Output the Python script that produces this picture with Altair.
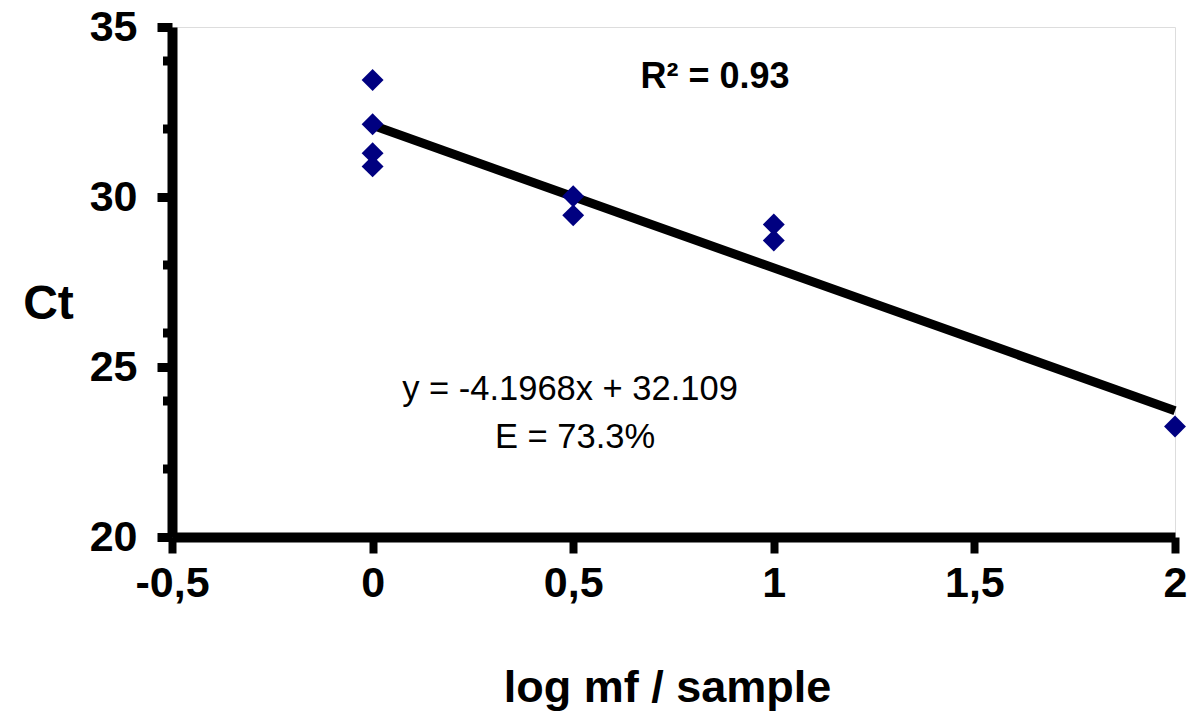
import altair as alt
import pandas as pd

# data
log_mf = [0, 0, 0, 0, 0.5, 0.5, 1, 1, 2]
ct = [33.44, 32.14, 31.29, 30.90, 30.02, 29.46, 29.19, 28.72, 23.25]

# regression line (from the printed equation y = -4.1968x + 32.109)
trend_x = [0, 2]
trend_y = [32.109, 23.715]

x_ticks = [-0.5, 0, 0.5, 1, 1.5, 2]
y_major = [20, 25, 30, 35]
y_minor = [22, 24, 26, 28, 32, 34]

r2_text = ["R² = 0.93"]
eq_text = ["y = -4.1968x + 32.109"]
e_text = ["E = 73.3%"]

FONT = "Liberation Sans"

pts = pd.DataFrame({"x": log_mf, "y": ct})
trend = pd.DataFrame({"x": trend_x, "y": trend_y})
minor = pd.DataFrame({"v": y_minor})

xscale = alt.Scale(domain=[-0.5, 2], nice=False, zero=False)
yscale = alt.Scale(domain=[20, 35], nice=False, zero=False)

xaxis = alt.Axis(
    values=x_ticks, title="log mf / sample", grid=False,
    domainColor="black", domainWidth=10, tickColor="black", tickWidth=8, tickSize=16,
    labelFont=FONT, labelFontSize=43, labelFontWeight="bold", labelColor="black",
    labelPadding=9,
    labelExpr="(datum.value < 0 ? '-' : '') + replace(format(abs(datum.value), '~g'), '.', ',')",
    titleFont=FONT, titleFontSize=45, titleFontWeight="bold", titleColor="black",
    titleX=495, titleY=164, titleAlign="center", titleBaseline="alphabetic",
    labelFlush=False, labelOverlap=False,
)
yaxis = alt.Axis(
    values=y_major, title="Ct", grid=False,
    domainColor="black", domainWidth=10, tickColor="black", tickWidth=9, tickSize=15,
    labelFont=FONT, labelFontSize=43, labelFontWeight="bold", labelColor="black",
    labelPadding=20, labelFlush=False, labelOverlap=False,
    titleFont=FONT, titleFontSize=48, titleFontWeight="bold", titleColor="black",
    titleAngle=0, titleX=-124, titleY=291, titleAlign="center", titleBaseline="alphabetic",
)

points = alt.Chart(pts).mark_point(
    shape="diamond", filled=True, color="#000080", size=480, opacity=1
).encode(
    x=alt.X("x:Q", scale=xscale, axis=xaxis),
    y=alt.Y("y:Q", scale=yscale, axis=yaxis),
)

line = alt.Chart(trend).mark_line(color="black", strokeWidth=9).encode(
    x=alt.X("x:Q", scale=xscale),
    y=alt.Y("y:Q", scale=yscale),
)

minor_ticks = alt.Chart(minor).mark_rule(color="black", strokeWidth=9).encode(
    y=alt.Y("v:Q", scale=yscale),
    x=alt.value(-9),
    x2=alt.value(0),
)

r2 = alt.Chart(pd.DataFrame({"t": r2_text})).mark_text(
    font=FONT, fontSize=36, fontWeight="bold", color="black", align="center", baseline="alphabetic"
).encode(text="t:N", x=alt.value(543), y=alt.value(61))

eq = alt.Chart(pd.DataFrame({"t": eq_text})).mark_text(
    font=FONT, fontSize=34.5, color="black", align="center", baseline="alphabetic"
).encode(text="t:N", x=alt.value(398), y=alt.value(373))

ee = alt.Chart(pd.DataFrame({"t": e_text})).mark_text(
    font=FONT, fontSize=34.5, color="black", align="center", baseline="alphabetic"
).encode(text="t:N", x=alt.value(403), y=alt.value(421))

chart = alt.layer(minor_ticks, line, points, r2, eq, ee).properties(
    width=1003, height=510,
    autosize=alt.AutoSizeParams(type="none"),
    padding={"left": 164, "top": 19, "right": 13, "bottom": 175},
).configure_view(stroke="transparent", strokeWidth=0).configure(background="white")

chart.save("out.html", embed_options={"renderer": "svg", "actions": False})
